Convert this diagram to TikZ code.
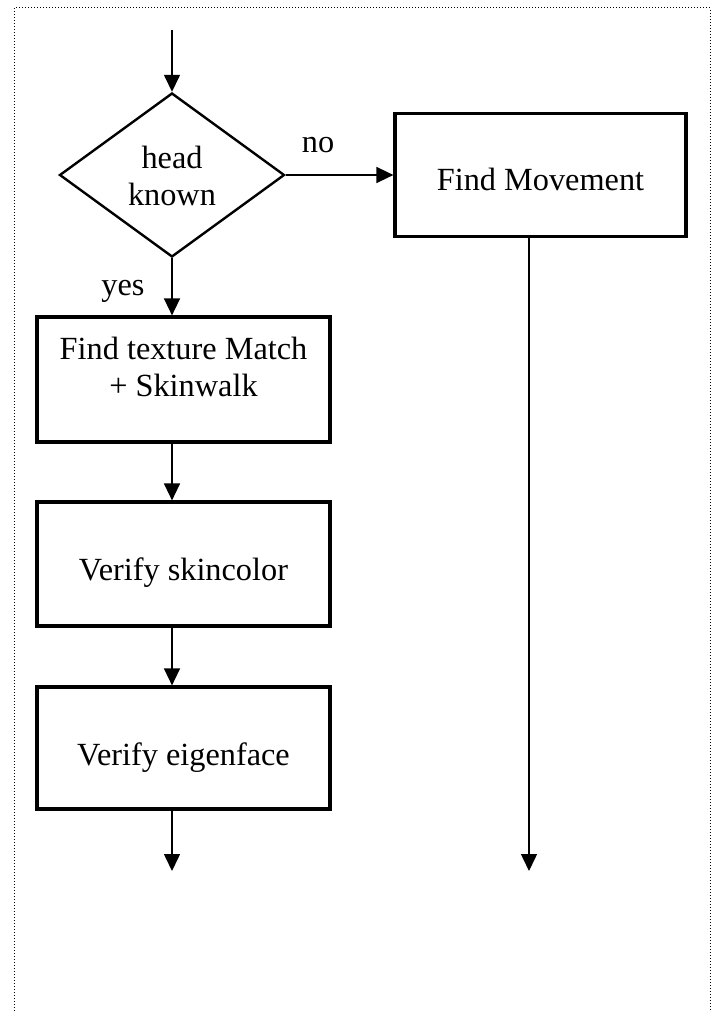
\documentclass[tikz,border=0pt]{standalone}
\usepackage{fontspec}
\setmainfont{Liberation Serif}
\usetikzlibrary{shapes.geometric,arrows.meta}
\begin{document}
\begin{tikzpicture}[x=1pt,y=-1pt,
  txt/.style={font=\fontsize{32.3}{38}\selectfont, inner sep=0pt, anchor=base},
  stepbox/.style={draw, line width=3.2pt, rectangle, inner sep=0pt},
  decision/.style={draw, line width=2.4pt, diamond, inner sep=0pt, minimum width=225pt, minimum height=164pt, aspect=1.37},
  flow/.style={line width=1.5pt, -{Triangle[length=17pt,width=16pt]}},
  frame/.style={line width=1pt, dotted}
]
\useasboundingbox (0,0) rectangle (717,1011);
% dotted frame (top, left, right)
\draw[frame] (14,1011) -- (14,8) -- (710,8) -- (710,1011);

% nodes
\coordinate (start) at (172,30);
\node[decision] (dec) at (172,175) {};
\node[txt] (t1) at (172,168) {head};
\node[txt] (t2) at (172,205) {known};

\node[stepbox, minimum width=291pt, minimum height=123pt] (fm) at (540.5,175) {};
\node[txt] (fmt) at (540.5,190) {Find Movement};

\node[stepbox, minimum width=293pt, minimum height=125pt] (b1) at (183.5,379.5) {};
\node[txt, align=center] (b1a) at (183.5,359) {Find texture Match};
\node[txt] (b1b) at (183.5,396) {+ Skinwalk};

\node[stepbox, minimum width=293pt, minimum height=124pt] (b2) at (183.5,564) {};
\node[txt] (b2t) at (183.5,580) {Verify skincolor};

\node[stepbox, minimum width=293pt, minimum height=122pt] (b3) at (183.5,748) {};
\node[txt] (b3t) at (183.5,765) {Verify eigenface};

\node[txt] (no) at (318,153) {no};
\node[txt] (yes) at (123,295) {yes};

\coordinate (endL) at (172,871);
\coordinate (endR) at (529,871);

% connectors
\draw[flow] (start) -- (dec.north);
\draw[flow] (dec.east) -- (dec.east -| fm.west);
\draw[flow] (dec.south) -- (b1.north -| dec.south);
\draw[flow] (b1.south -| dec.south) -- (b2.north -| dec.south);
\draw[flow] (b2.south -| dec.south) -- (b3.north -| dec.south);
\draw[flow] (b3.south -| dec.south) -- (endL);
\draw[flow] (fm.south -| endR) -- (endR);
\end{tikzpicture}
\end{document}
